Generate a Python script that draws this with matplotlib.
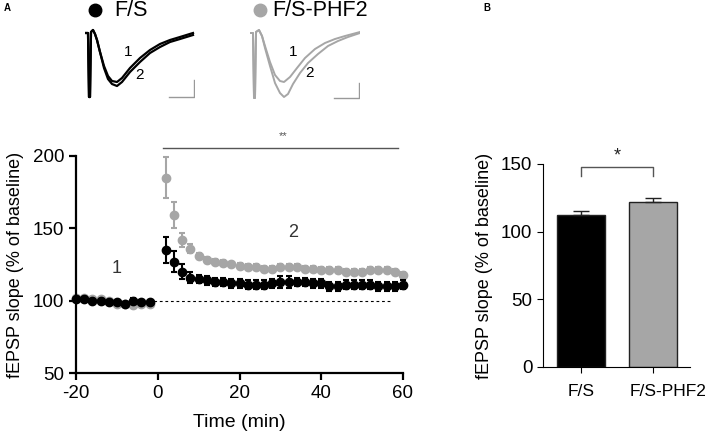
import numpy as np
import matplotlib.pyplot as plt
import matplotlib.transforms as mtransforms
from matplotlib.lines import Line2D

plt.rcParams['font.family'] = ['Liberation Sans', 'DejaVu Sans']
plt.rcParams['axes.unicode_minus'] = False

# LTP time course (min, % of baseline)
t_base = [-20, -18, -16, -14, -12, -10, -8, -6, -4, -2]
t_post = list(range(2, 62, 2))
time = t_base + t_post

fs_mean = [101, 101, 100, 100, 99, 99, 98, 100, 99, 99,
           135, 127, 120, 116, 115, 114, 113, 113, 112, 112,
           111, 111, 111, 112, 113, 113, 113, 113, 112, 112,
           110, 110, 111, 111, 111, 111, 110, 110, 110, 111]
fs_sem = [1, 1, 1, 1, 1, 1, 1, 1.5, 1, 1,
          9, 7, 5, 4, 3, 3, 3, 3, 3, 3,
          3, 3, 3, 3, 4, 4, 3, 3, 3, 3,
          3, 3, 3, 3, 3, 3, 3, 3, 3, 3]
phf_mean = [102, 102, 101, 101, 100, 98, 98, 97, 98, 98,
            185, 159, 142, 136, 131, 128, 127, 126, 125, 124,
            123, 123, 122, 122, 123, 123, 123, 122, 122, 121,
            121, 121, 120, 120, 120, 121, 121, 121, 120, 118]
phf_sem = [1, 1, 1, 1, 1, 1, 1, 1, 1, 1,
           14, 9, 5, 3, 2, 2, 2, 2, 2, 2,
           2, 2, 2, 2, 2, 2, 2, 2, 2, 2,
           2, 2, 2, 2, 2, 2, 2, 2, 2, 2]

# summary bars
groups = ['F/S', 'F/S-PHF2']
bar_mean = [112, 122]
bar_sem = [3.5, 3]

# example fEPSP traces (sample index, amplitude)
tr_fs_x1 = [0, 3, 4, 5, 6, 8, 10, 12, 15, 19, 23, 27, 32, 37, 45, 55, 65, 75, 85, 95, 108]
tr_fs_y1 = [0, 0, -64, -64, 1, 3, -1, -7, -19, -33, -43, -48, -49, -45, -35, -25, -17, -11, -7, -4, 0]
tr_fs_x2 = [0, 3, 4, 5, 6, 8, 10, 12, 15, 19, 23, 27, 32, 37, 45, 55, 65, 75, 85, 95, 108]
tr_fs_y2 = [0, 0, -64, -64, 1, 3, -1, -7, -19, -35, -46, -51, -53, -49, -39, -29, -20, -14, -9, -6, -2]
tr_phf_x1 = [0, 3, 4, 5, 6, 9, 12, 15, 20, 25, 30, 34, 40, 47, 55, 65, 75, 85, 95, 110]
tr_phf_y1 = [0, 0, -65, -65, 1, 3, -3, -13, -29, -42, -48, -49, -44, -35, -25, -16, -10, -6, -3, 1]
tr_phf_x2 = [0, 3, 4, 5, 6, 9, 12, 15, 20, 25, 30, 34, 38, 43, 50, 58, 68, 78, 88, 98, 110]
tr_phf_y2 = [0, 0, -65, -65, 1, 3, -3, -15, -33, -50, -60, -64, -61, -51, -40, -30, -21, -13, -8, -4, 0]

black = '#000000'
grey = '#a6a6a6'

fig = plt.figure(figsize=(7.09, 4.42), dpi=100)

# ---- panel A: time course
ax = fig.add_axes([0.1072, 0.1561, 0.4612, 0.4910])
ax.plot([-20, 57], [100, 100], ls='--', color='black', lw=0.8, dashes=(2.5, 2.5), zorder=1)
ax.errorbar(time, fs_mean, yerr=fs_sem, fmt='o', color=black, ms=6, capsize=2.5,
            elinewidth=1.5, capthick=1.5, zorder=3, clip_on=False)
ax.errorbar(time, phf_mean, yerr=phf_sem, fmt='o', color=grey, ms=6, capsize=2.5,
            elinewidth=1.5, capthick=1.5, zorder=2, clip_on=False)
ax.set_xlim(-20, 60)
ax.set_ylim(50, 200)
ax.set_xticks([-20, 0, 20, 40, 60])
ax.set_yticks([50, 100, 150, 200])
for s in ['top', 'right']:
    ax.spines[s].set_visible(False)
for s in ['left', 'bottom']:
    ax.spines[s].set_linewidth(1.6)
ax.tick_params(width=1.6, length=5, labelsize=13.5)
ax.set_xlabel('Time (min)', fontsize=14, labelpad=9)
ax.set_ylabel('fEPSP slope (% of baseline)', fontsize=13, labelpad=6)
ax.text(-10, 122, '1', fontsize=13, ha='center', va='center', color='#333333')
ax.text(33, 147, '2', fontsize=13, ha='center', va='center', color='#333333')
ax.plot([1.2, 58.8], [205.5, 205.5], color='#555555', lw=1, clip_on=False)
ax.text(30.6, 214, '**', fontsize=8, ha='center', va='center', color='#555555')

# ---- panel B: bars
bx = fig.add_axes([0.7654, 0.1697, 0.2078, 0.4593])
xpos = np.arange(len(groups))
bx.bar(xpos, bar_mean, width=0.67, color=[black, grey], edgecolor='#222222', lw=1)
bx.errorbar(xpos, bar_mean, yerr=[[0, 0], bar_sem], fmt='none', ecolor='#222222',
            capsize=6, elinewidth=1, capthick=1)
bx.set_xlim(-0.53, 1.51)
bx.set_ylim(0, 150)
bx.set_yticks([0, 50, 100, 150])
bx.set_xticks(xpos)
bx.set_xticklabels(groups)
for s in ['top', 'right']:
    bx.spines[s].set_visible(False)
bx.tick_params(length=4)
bx.tick_params(axis='y', labelsize=13.5)
bx.tick_params(axis='x', labelsize=12.5, pad=8)
# second label sits a bit to the right of its tick, as in the original
lab = bx.get_xticklabels()[1]
lab.set_transform(lab.get_transform() + mtransforms.ScaledTranslation(0.15, 0, fig.dpi_scale_trans))
bx.set_ylabel('fEPSP slope (% of baseline)', fontsize=13, labelpad=6)
bx.plot([0, 0, 1, 1], [141, 148, 148, 141], color='#555555', lw=1, clip_on=False)
bx.text(0.5, 156, '*', fontsize=13, ha='center', va='center', color='#222222')

# ---- example traces
tA = fig.add_axes([85 / 709, 1 - 100 / 442, 110 / 709, 72 / 442])
tA.plot(tr_fs_x1, tr_fs_y1, color=black, lw=1.6)
tA.plot(tr_fs_x2, tr_fs_y2, color=black, lw=1.6)
tA.plot([84, 109, 109], [-64, -64, -47], color='#999999', lw=1)
tA.text(43, -19, '1', fontsize=11, ha='center', va='center')
tA.text(55, -42, '2', fontsize=11, ha='center', va='center')
tB = fig.add_axes([250 / 709, 1 - 100 / 442, 110 / 709, 72 / 442])
tB.plot(tr_phf_x1, tr_phf_y1, color=grey, lw=1.4)
tB.plot(tr_phf_x2, tr_phf_y2, color=grey, lw=1.4)
tB.plot([84, 109, 109], [-65, -65, -50], color='#999999', lw=1)
tB.text(43, -19, '1', fontsize=11, ha='center', va='center')
tB.text(60, -40, '2', fontsize=11, ha='center', va='center')
for a in (tA, tB):
    a.set_xlim(0, 110)
    a.set_ylim(-67, 5)
    a.axis('off')

# legend and panel letters
for xm, col in [(95, black), (260, grey)]:
    fig.add_artist(Line2D([xm / 709], [1 - 10 / 442], marker='o', ms=9, color=col,
                          ls='none', transform=fig.transFigure))
fig.text(114 / 709, 1 - 10 / 442, 'F/S', fontsize=15.5, ha='left', va='center')
fig.text(272 / 709, 1 - 10 / 442, 'F/S-PHF2', fontsize=15.5, ha='left', va='center')
fig.text(7 / 709, 1 - 8 / 442, 'A', fontsize=7, fontweight='bold', ha='center', va='center')
fig.text(487 / 709, 1 - 8 / 442, 'B', fontsize=7, fontweight='bold', ha='center', va='center')

fig.savefig('out.png', dpi=100)
